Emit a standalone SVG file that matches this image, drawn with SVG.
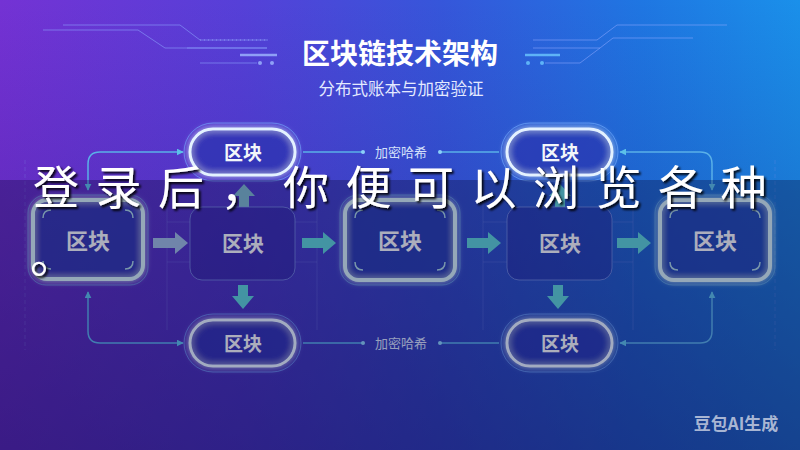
<svg xmlns="http://www.w3.org/2000/svg" width="800" height="450" viewBox="0 0 800 450">
<defs>
<linearGradient id="bg" x1="0" y1="0" x2="1" y2="0">
<stop offset="0" stop-color="#7432d4"/>
<stop offset="0.3" stop-color="#5640d8"/>
<stop offset="0.55" stop-color="#3656da"/>
<stop offset="0.8" stop-color="#1f76e2"/>
<stop offset="1" stop-color="#1a90ea"/>
</linearGradient>
<linearGradient id="vdark" x1="0" y1="0" x2="0" y2="1">
<stop offset="0" stop-color="#1a1070" stop-opacity="0"/>
<stop offset="1" stop-color="#1a1070" stop-opacity="0.4"/>
</linearGradient>
<filter id="glow" x="-30%" y="-30%" width="160%" height="160%">
<feGaussianBlur in="SourceGraphic" stdDeviation="3" result="b"/>
<feMerge><feMergeNode in="b"/><feMergeNode in="SourceGraphic"/></feMerge>
</filter>
<filter id="shadow" x="-5%" y="-20%" width="110%" height="140%">
<feDropShadow dx="2" dy="2" stdDeviation="1" flood-color="#000" flood-opacity="0.9"/>
</filter>
<marker id="ah" viewBox="0 0 10 10" refX="9" refY="5" markerWidth="7" markerHeight="7" orient="auto-start-reverse" markerUnits="userSpaceOnUse">
<path d="M0,0 L10,5 L0,10 z" fill="#5cc0e8"/>
</marker>
<style>
.deco{fill:none;stroke:#8ea8ff;stroke-width:1;opacity:0.55}
.faint{fill:none;stroke:#7f8fe8;stroke-width:1;opacity:0.25}
.conn{fill:none;stroke:#5ab0e8;stroke-width:1.5}
.pill{fill:#2a36b0;fill-opacity:0.45;stroke:#e4f2ff;stroke-width:3}
.pillout{fill:none;stroke:#6aa8ff;stroke-width:1;opacity:0.6}
.gblk{fill:#1e3aa8;fill-opacity:0.45;stroke:#d2eef4;stroke-width:4}
.gout{fill:none;stroke:#6ab8e8;stroke-width:1;opacity:0.55}
.brk{fill:none;stroke:#a8d4e0;stroke-width:1.5}
.tblk{fill:#221c90;fill-opacity:0.35;stroke:#7c94e4;stroke-width:1;stroke-opacity:0.7}
.lbl{font-family:"Noto Sans CJK SC",sans-serif;font-weight:700;fill:#f2f6fa;text-anchor:middle}
.hash{font-family:"Noto Sans CJK SC",sans-serif;font-size:13px;fill:#d4e0fa;text-anchor:middle}
.arr{fill:#5cd2d6}
</style>
</defs>
<rect width="800" height="450" fill="url(#bg)"/>
<rect width="800" height="450" fill="url(#vdark)"/>

<g id="decoration">
<path class="deco" d="M63,25 H180 L200,40 H268"/>
<path class="deco" d="M43,30 H138 L150,38 L165,48 H267"/>
<path class="deco" d="M187,48 H267"/>
<path d="M240,55 H277" stroke="#9fb8ff" stroke-width="2.5" opacity="0.8"/>
<path class="deco" d="M200,63 H257"/>
<circle cx="260" cy="63" r="2" fill="#9fb8ff" opacity="0.8"/>
<circle cx="272" cy="63" r="2" fill="#9fb8ff" opacity="0.8"/>
<path d="M200,40 H267" stroke="#a8b8ff" stroke-width="1" stroke-dasharray="1 3" opacity="0.6"/>
<path class="deco" d="M727,25 H617 L597,40 H533"/>
<path class="deco" d="M693,38 H613 L600,48 H533"/>
<path d="M525,55 H560" stroke="#6cc8ff" stroke-width="2.5" opacity="0.8"/>
<path class="deco" d="M545,63 H580 L600,48"/>
<circle cx="528" cy="63" r="2" fill="#6cc8ff" opacity="0.8"/>
<circle cx="542" cy="63" r="2" fill="#6cc8ff" opacity="0.8"/>
<path class="faint" d="M25,160 V350" stroke-dasharray="4 3"/>
<path class="faint" d="M167,190 V330 M317,190 V330 M167,222 H190 M167,262 H190 M295,222 H317 M295,262 H317"/>
<path class="faint" d="M483,190 V330 M633,190 V330 M483,222 H507 M483,262 H507 M613,222 H633 M613,262 H633"/>
<path class="faint" d="M775,160 V350" stroke-dasharray="4 3"/>
</g>

<g id="title">
<text x="400" y="64" font-family="'Noto Sans CJK SC',sans-serif" font-size="28" font-weight="700" fill="#ffffff" text-anchor="middle">区块链技术架构</text>
<text x="401" y="95" font-family="'Noto Sans CJK SC',sans-serif" font-size="16.5" fill="#e4eaff" text-anchor="middle">分布式账本与加密验证</text>
</g>

<g id="connectors">
<path class="conn" d="M183,152 H100 Q88,152 88,164 V190" marker-start="url(#ah)" marker-end="url(#ah)"/>
<path class="conn" d="M88,292 V331 Q88,343 100,343 H183" marker-start="url(#ah)" marker-end="url(#ah)"/>
<path class="conn" d="M620,152 H700 Q712,152 712,164 V190" marker-start="url(#ah)" marker-end="url(#ah)"/>
<path class="conn" d="M620,343 H700 Q712,343 712,331 V292" marker-start="url(#ah)" marker-end="url(#ah)"/>
<path class="conn" d="M303,152 H363 M440,152 H499"/>
<circle cx="363" cy="152" r="2" fill="#8cd0f8"/>
<circle cx="440" cy="152" r="2" fill="#8cd0f8"/>
<path class="conn" d="M303,343 H363 M440,343 H499"/>
<circle cx="363" cy="343" r="2" fill="#8cd0f8"/>
<circle cx="440" cy="343" r="2" fill="#8cd0f8"/>
<text class="hash" x="401" y="157">加密哈希</text>
<text class="hash" x="401" y="348">加密哈希</text>
<polygon points="153,238 175,238 175,232 188,243 175,254 175,248 153,248" fill="#9cbce0"/>
<polygon class="arr" points="302,238 323,238 323,232 336,243 323,254 323,248 302,248"/>
<polygon class="arr" points="467,238 488,238 488,232 501,243 488,254 488,248 467,248"/>
<polygon class="arr" points="617,238 638,238 638,232 651,243 638,254 638,248 617,248"/>
<polygon points="239,207 239,196 233,196 244,184 255,196 249,196 249,207" fill="#7cb8cc"/>
<polygon class="arr" points="238,285 248,285 248,296 254,296 243,309 232,296 238,296"/>
<polygon class="arr" points="555,207 555,196 549,196 560,184 571,196 565,196 565,207"/>
<polygon class="arr" points="553,285 563,285 563,296 569,296 558,309 547,296 553,296"/>
</g>

<g id="pill-top-left">
<rect class="pillout" x="184" y="123" width="117" height="58" rx="29"/>
<rect class="pill" x="190" y="129" width="105" height="46" rx="23" filter="url(#glow)"/>
<text class="lbl" x="243" y="160" font-size="19">区块</text>
</g>
<g id="pill-top-right">
<rect class="pillout" x="501" y="123" width="117" height="58" rx="29"/>
<rect class="pill" x="507" y="129" width="105" height="46" rx="23" filter="url(#glow)"/>
<text class="lbl" x="560" y="160" font-size="19">区块</text>
</g>
<g id="pill-bottom-left">
<rect class="pillout" x="184" y="314" width="117" height="58" rx="29"/>
<rect class="pill" x="190" y="320" width="105" height="46" rx="23" filter="url(#glow)"/>
<text class="lbl" x="243" y="351" font-size="19">区块</text>
</g>
<g id="pill-bottom-right">
<rect class="pillout" x="501" y="314" width="117" height="58" rx="29"/>
<rect class="pill" x="507" y="320" width="105" height="46" rx="23" filter="url(#glow)"/>
<text class="lbl" x="560" y="351" font-size="19">区块</text>
</g>

<g id="block-1">
<rect class="gout" x="28" y="195" width="120" height="90" rx="18"/>
<rect class="gblk" x="33" y="200" width="110" height="79" rx="14" filter="url(#glow)"/>
<path class="brk" d="M43,218 Q43,210 51,210 M133,218 Q133,210 125,210 M43,261 Q43,269 51,269 M133,261 Q133,269 125,269"/>
<text class="lbl" x="88" y="249" font-size="22">区块</text>
</g>
<g id="block-2">
<rect class="tblk" x="190" y="207" width="105" height="73" rx="12"/>
<text class="lbl" x="243" y="251" font-size="21">区块</text>
</g>
<g id="block-3">
<rect class="gout" x="340" y="195" width="120" height="90" rx="18"/>
<rect class="gblk" x="345" y="200" width="110" height="80" rx="14" filter="url(#glow)"/>
<path class="brk" d="M355,218 Q355,210 363,210 M445,218 Q445,210 437,210 M355,262 Q355,270 363,270 M445,262 Q445,270 437,270"/>
<text class="lbl" x="400" y="249" font-size="22">区块</text>
</g>
<g id="block-4">
<rect class="tblk" x="507" y="207" width="105" height="73" rx="12"/>
<text class="lbl" x="560" y="251" font-size="21">区块</text>
</g>
<g id="block-5">
<rect class="gout" x="655" y="195" width="120" height="90" rx="18"/>
<rect class="gblk" x="660" y="200" width="110" height="80" rx="14" filter="url(#glow)"/>
<path class="brk" d="M670,218 Q670,210 678,210 M760,218 Q760,210 752,210 M670,262 Q670,270 678,270 M760,262 Q760,270 752,270"/>
<text class="lbl" x="715" y="249" font-size="22">区块</text>
</g>

<rect id="overlay-band" x="0" y="180" width="800" height="270" fill="#0a0830" fill-opacity="0.3"/>

<g id="watermark">
<text x="736" y="430" font-family="'Noto Sans CJK SC',sans-serif" font-size="17" font-weight="700" fill="#c4cce0" fill-opacity="0.85" text-anchor="middle">豆包AI生成</text>
</g>

<g id="overlay-text" filter="url(#shadow)">
<text x="33" y="204" font-family="'Noto Sans CJK SC',sans-serif" font-size="46" font-weight="400" letter-spacing="16.5" fill="#ffffff">登录后，你便可以浏览各种</text>
<text x="30" y="272" font-family="'Noto Sans CJK SC',sans-serif" font-size="46" font-weight="400" fill="#ffffff">。</text>
</g>
</svg>
